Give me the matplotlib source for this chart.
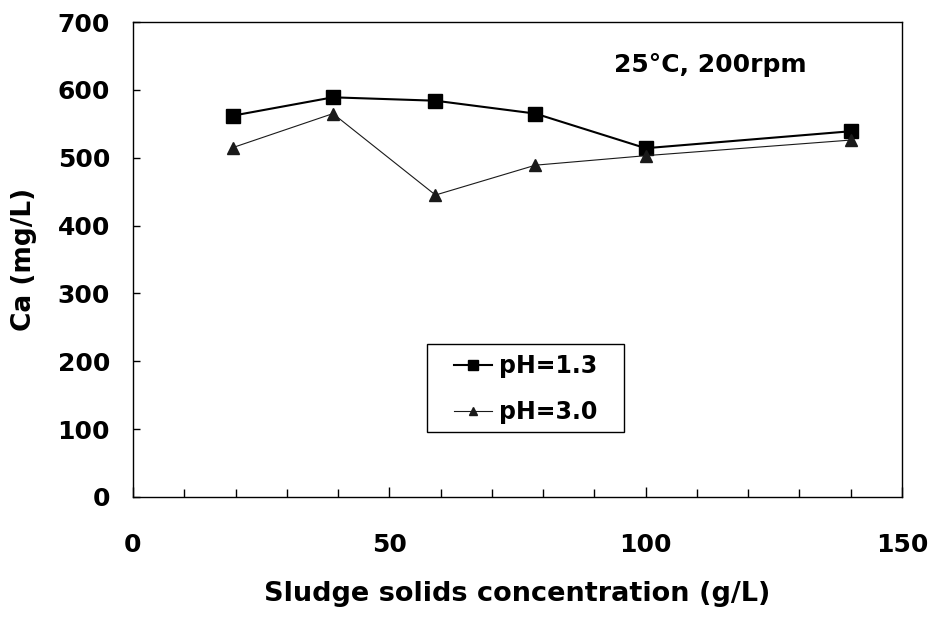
import matplotlib
matplotlib.use("Agg")
import matplotlib.pyplot as plt
from matplotlib.patches import Rectangle
from matplotlib.ticker import MultipleLocator

plt.rcParams["font.family"] = ["DejaVu Sans"]
plt.rcParams["font.weight"] = "bold"

# Sludge solids concentration (g/L)
solids = [19.5, 39, 59, 78.5, 100, 140]
# Ca (mg/L)
ca_ph13 = [562, 589, 584, 565, 514, 539]
ca_ph30 = [515, 565, 445, 489, 503, 526]

labels = ["pH=1.3", "pH=3.0"]
note = "25°C, 200rpm"


def main():
    fig = plt.figure(figsize=(9.32, 6.18), dpi=100)
    ax = fig.add_axes([0.1427, 0.1958, 0.8251, 0.7686])

    ax.plot(solids, ca_ph13, color="black", linewidth=1.5, marker="s",
            markersize=9.6, label=labels[0])
    ax.plot(solids, ca_ph30, color="#1a1a1a", linewidth=0.8, marker="^",
            markersize=8.5, label=labels[1])

    ax.set_xlim(0, 150)
    ax.set_ylim(0, 700)
    ax.xaxis.set_major_locator(MultipleLocator(50))
    ax.xaxis.set_minor_locator(MultipleLocator(10))
    ax.yaxis.set_major_locator(MultipleLocator(100))

    ax.tick_params(axis="both", which="both", direction="in",
                   labelsize=18, width=1)
    ax.tick_params(axis="x", which="major", length=7, pad=26)
    ax.tick_params(axis="x", which="minor", length=5.5)
    ax.tick_params(axis="y", which="major", length=5, pad=16.5)

    for spine in ax.spines.values():
        spine.set_linewidth(1.0)

    ax.set_xlabel("Sludge solids concentration (g/L)", fontsize=19.5,
                  fontweight="bold", labelpad=17)
    ax.set_ylabel("Ca (mg/L)", fontsize=19, fontweight="bold", labelpad=15)

    ax.text(112.7, 637, note, fontsize=18, fontweight="bold",
            ha="center", va="center")

    # legend entries without frame, box drawn separately
    ax.legend(loc="center", bbox_to_anchor=(0.511, 0.227),
              fontsize=17, frameon=False, borderpad=0,
              handlelength=1.6, handletextpad=0.3, markerscale=0.75,
              labelspacing=0.95)
    ax.add_patch(Rectangle((0.382, 0.137), 0.256, 0.185,
                           transform=ax.transAxes, fill=False,
                           edgecolor="black", linewidth=1.0))

    fig.savefig("out.png", dpi=100)
    plt.close(fig)


if __name__ == "__main__":
    main()
